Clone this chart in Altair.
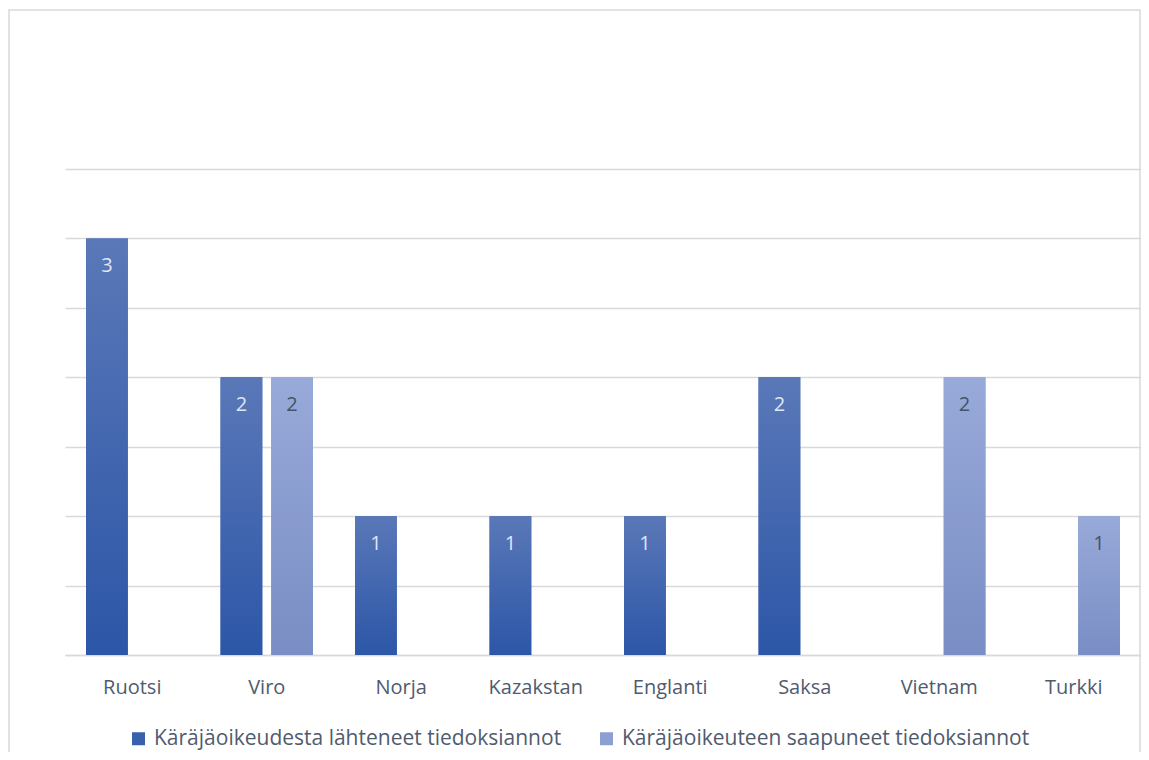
import altair as alt
import pandas as pd

countries = ["Ruotsi", "Viro", "Norja", "Kazakstan", "Englanti", "Saksa", "Vietnam", "Turkki"]
series_names = ["Käräjäoikeudesta lähteneet tiedoksiannot", "Käräjäoikeuteen saapuneet tiedoksiannot"]
lahteneet = [3, 2, 1, 1, 1, 2, 0, 0]
saapuneet = [0, 2, 0, 0, 0, 0, 2, 1]

rows = []
for c, a, b in zip(countries, lahteneet, saapuneet):
    if a > 0:
        rows.append({"maa": c, "sarja": series_names[0], "arvo": a})
    if b > 0:
        rows.append({"maa": c, "sarja": series_names[1], "arvo": b})
df = pd.DataFrame(rows)

FONT = "Open Sans"
GRID = "#d9d9d9"
TEXT = "#505b6e"
W, H = 1076, 486

x_enc = alt.X("maa:N", sort=countries, title=None,
              scale=alt.Scale(paddingInner=0.313, paddingOuter=0.1565),
              axis=alt.Axis(labelAngle=0, labelFontSize=20, labelColor=TEXT, labelFont=FONT,
                            labelPadding=22, ticks=False, domain=True, domainColor=GRID,
                            domainWidth=1.3, grid=False))
xo_enc = alt.XOffset("sarja:N", sort=series_names,
                     scale=alt.Scale(paddingInner=0.176, paddingOuter=0))
y_enc = alt.Y("arvo:Q", title=None,
              scale=alt.Scale(domain=[0, 3.5], nice=False),
              axis=alt.Axis(values=[0, 0.5, 1, 1.5, 2, 2.5, 3, 3.5], labels=False, ticks=False,
                            domain=False, grid=True, gridColor=GRID, gridWidth=1.3))

base = alt.Chart(df)

legend_bars = base.mark_bar().encode(
    x=x_enc, xOffset=xo_enc, y=y_enc,
    color=alt.Color("sarja:N", sort=series_names, title=None,
                    scale=alt.Scale(domain=series_names, range=["#3760ad", "#8c9fd2"]),
                    legend=alt.Legend(orient="none", legendX=63, legendY=559, direction="horizontal",
                                      symbolType="square", symbolSize=169, symbolStrokeWidth=0,
                                      labelFontSize=21, labelColor=TEXT, labelFont=FONT,
                                      labelLimit=0, columnPadding=34, labelOffset=5)),
)

grad1 = alt.LinearGradient(gradient="linear", x1=0, x2=0, y1=0, y2=1,
                           stops=[alt.GradientStop(offset=0, color="#5a78b8"),
                                  alt.GradientStop(offset=1, color="#2c56a7")])
grad2 = alt.LinearGradient(gradient="linear", x1=0, x2=0, y1=0, y2=1,
                           stops=[alt.GradientStop(offset=0, color="#98aad9"),
                                  alt.GradientStop(offset=1, color="#7a8dc4")])

bars1 = base.transform_filter(alt.datum.sarja == series_names[0]).mark_bar(fill=grad1).encode(
    x=x_enc, xOffset=xo_enc, y=y_enc)
bars2 = base.transform_filter(alt.datum.sarja == series_names[1]).mark_bar(fill=grad2).encode(
    x=x_enc, xOffset=xo_enc, y=y_enc)

labels = base.mark_text(baseline="middle", dy=28, fontSize=20, font=FONT).encode(
    x=x_enc, xOffset=xo_enc, y=y_enc, text=alt.Text("arvo:Q"),
    color=alt.condition(alt.datum.sarja == series_names[0], alt.value("#dfe6f5"), alt.value("#44546a")),
)

frame = alt.Chart(pd.DataFrame({"a": [0]})).mark_rect(fill="transparent", stroke=GRID, strokeWidth=1.5).encode(
    x=alt.value(-56), x2=alt.value(W - 1), y=alt.value(-159), y2=alt.value(700))

chart = alt.layer(frame, legend_bars, bars1, bars2, labels).properties(
    width=W, height=H,
    padding={"left": 57, "top": 161, "right": 0, "bottom": 97},
    autosize=alt.AutoSizeParams(type="none"),
    background="white",
).configure_view(stroke=None)

chart.save("out.html", embed_options={"renderer": "svg", "actions": False})
